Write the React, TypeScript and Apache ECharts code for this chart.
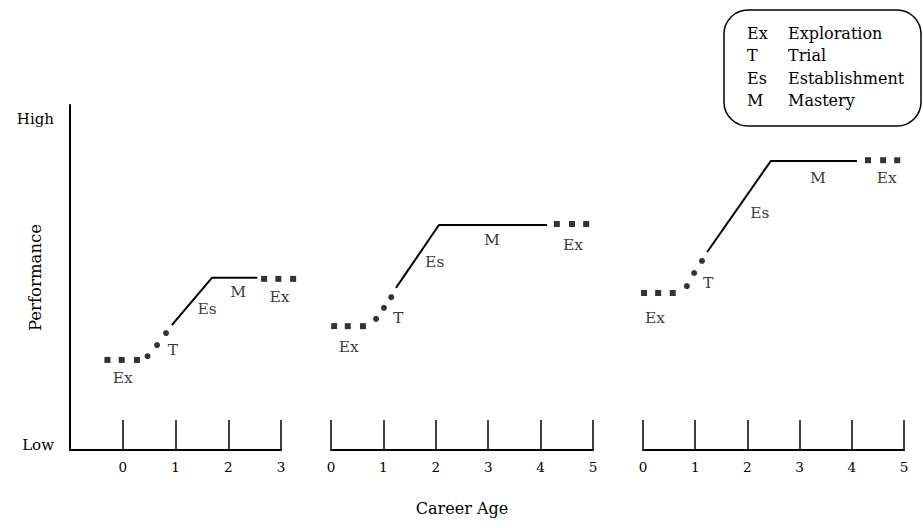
import React, { useEffect, useRef } from "react";
import * as echarts from "echarts";

// Career age tick labels per panel
const panelRanges = [
  { min: -1, max: 3 },
  { min: 0, max: 5 },
  { min: 0, max: 5 },
];

// Performance values (0 = Low, 100 = High)
const p1ExStart = [[-0.29, 26.1], [-0.02, 26.1], [0.27, 26.1]];
const p1Trial = [[0.47, 27.2], [0.65, 30.4], [0.82, 33.9]];
const p1Solid = [[0.93, 36.2], [1.69, 49.9], [2.55, 49.9]];
const p1ExEnd = [[2.68, 49.6], [2.95, 49.6], [3.23, 49.6]];
const p1Labels = [
  { name: "Ex", value: [0, 20.8] },
  { name: "T", value: [0.95, 29] },
  { name: "Es", value: [1.6, 41] },
  { name: "M", value: [2.19, 45.8] },
  { name: "Ex", value: [2.97, 44.4] },
];

const p2ExStart = [[0.06, 35.9], [0.32, 35.9], [0.61, 35.9]];
const p2Trial = [[0.86, 38.0], [1.01, 41.2], [1.15, 44.3]];
const p2Solid = [[1.24, 47.0], [2.06, 65.2], [4.12, 65.2]];
const p2ExEnd = [[4.31, 65.5], [4.6, 65.5], [4.87, 65.5]];
const p2Labels = [
  { name: "Ex", value: [0.34, 29.9] },
  { name: "T", value: [1.28, 38.2] },
  { name: "Es", value: [1.98, 54.5] },
  { name: "M", value: [3.07, 60.9] },
  { name: "Ex", value: [4.62, 59.4] },
];

const p3ExStart = [[0.02, 45.5], [0.29, 45.5], [0.57, 45.5]];
const p3Trial = [[0.84, 47.5], [0.98, 51.3], [1.13, 54.8]];
const p3Solid = [[1.23, 57.4], [2.45, 83.8], [4.1, 83.8]];
const p3ExEnd = [[4.31, 84], [4.6, 84], [4.87, 84]];
const p3Labels = [
  { name: "Ex", value: [0.23, 38.3] },
  { name: "T", value: [1.25, 48.4] },
  { name: "Es", value: [2.24, 68.7] },
  { name: "M", value: [3.35, 78.8] },
  { name: "Ex", value: [4.67, 78.8] },
];

const legendAbbr = ["Ex", "T", "Es", "M"];
const legendNames = ["Exploration", "Trial", "Establishment", "Mastery"];

const FONT = "DejaVu Serif";
const INK = "#000";

export default function App() {
  const ref = useRef<HTMLDivElement>(null);
  useEffect(() => {
    document.body.style.margin = "0";
    const chart = echarts.init(ref.current!, null, { renderer: "svg" });

    const grids = [
      { left: 70, width: 211, top: 105, height: 345 },
      { left: 331, width: 262, top: 105, height: 345 },
      { left: 643, width: 261, top: 105, height: 345 },
    ];

    const xAxes = panelRanges.map((r, i) => ({
      type: "value",
      gridIndex: i,
      min: r.min,
      max: r.max,
      interval: 1,
      name: i === 1 ? "Career Age" : "",
      nameLocation: "middle",
      nameGap: 50,
      nameMoveOverlap: false,
      nameTextStyle: { fontFamily: FONT, fontSize: 16, color: INK },
      axisLine: { show: true, onZero: false, lineStyle: { color: INK, width: 2 } },
      axisTick: { show: true, inside: true, length: 30, lineStyle: { color: INK, width: 1.5 } },
      axisLabel: {
        color: INK,
        fontFamily: FONT,
        fontSize: 13.5,
        margin: 10,
        formatter: (v: number) => (v < 0 ? "" : String(v)),
      },
      splitLine: { show: false },
    }));

    const yAxes = [0, 1, 2].map((i) => ({
      type: "value",
      gridIndex: i,
      min: 0,
      max: 100,
      name: i === 0 ? "Performance" : "",
      nameLocation: "middle",
      nameGap: 26,
      nameMoveOverlap: false,
      nameTextStyle: { fontFamily: FONT, fontSize: 16.5, color: INK },
      axisLine: { show: i === 0, onZero: false, lineStyle: { color: INK, width: 2 } },
      axisTick: { show: false },
      splitLine: { show: false },
      axisLabel:
        i === 0
          ? {
              show: true,
              customValues: [1.5, 96],
              color: INK,
              fontFamily: FONT,
              fontSize: 15,
              margin: 16,
              formatter: (v: number) => (v < 50 ? "Low" : "High"),
            }
          : { show: false },
    }));

    const panels = [
      [p1ExStart, p1Trial, p1Solid, p1ExEnd, p1Labels],
      [p2ExStart, p2Trial, p2Solid, p2ExEnd, p2Labels],
      [p3ExStart, p3Trial, p3Solid, p3ExEnd, p3Labels],
    ];

    const series: any[] = [];
    panels.forEach((p, i) => {
      const [exS, tr, so, exE, lb] = p as any[];
      series.push({
        type: "scatter", xAxisIndex: i, yAxisIndex: i, clip: false,
        symbol: "rect", symbolSize: 6, itemStyle: { color: INK }, data: exS,
      });
      series.push({
        type: "scatter", xAxisIndex: i, yAxisIndex: i, clip: false,
        symbol: "circle", symbolSize: 6, itemStyle: { color: INK }, data: tr,
      });
      series.push({
        type: "line", xAxisIndex: i, yAxisIndex: i, clip: false,
        showSymbol: false, symbol: "none",
        lineStyle: { color: INK, width: 2 }, data: so,
      });
      series.push({
        type: "scatter", xAxisIndex: i, yAxisIndex: i, clip: false,
        symbol: "rect", symbolSize: 6, itemStyle: { color: INK }, data: exE,
      });
      series.push({
        type: "scatter", xAxisIndex: i, yAxisIndex: i, clip: false,
        symbolSize: 0, silent: true,
        label: {
          show: true, position: "inside", formatter: "{b}",
          color: INK, fontFamily: FONT, fontSize: 15.5,
        },
        data: lb,
      });
    });

    const legendChildren: any[] = [
      {
        type: "rect",
        shape: { x: 724, y: 10, width: 197, height: 116, r: 24 },
        style: { fill: "none", stroke: INK, lineWidth: 1.5 },
      },
    ];
    legendAbbr.forEach((a, k) => {
      legendChildren.push({
        type: "text",
        style: {
          text: a, x: 747, y: 33 + k * 22.5, verticalAlign: "middle",
          fontFamily: FONT, fontSize: 16, fill: INK,
        },
      });
      legendChildren.push({
        type: "text",
        style: {
          text: legendNames[k], x: 788, y: 33 + k * 22.5, verticalAlign: "middle",
          fontFamily: FONT, fontSize: 16, fill: INK,
        },
      });
    });

    chart.setOption({
      animation: false,
      backgroundColor: "#fff",
      grid: grids,
      xAxis: xAxes,
      yAxis: yAxes,
      series,
      graphic: [{ type: "group", children: legendChildren }],
    });
    return () => chart.dispose();
  }, []);
  return <div ref={ref} style={{ width: 923, height: 528 }} />;
}
